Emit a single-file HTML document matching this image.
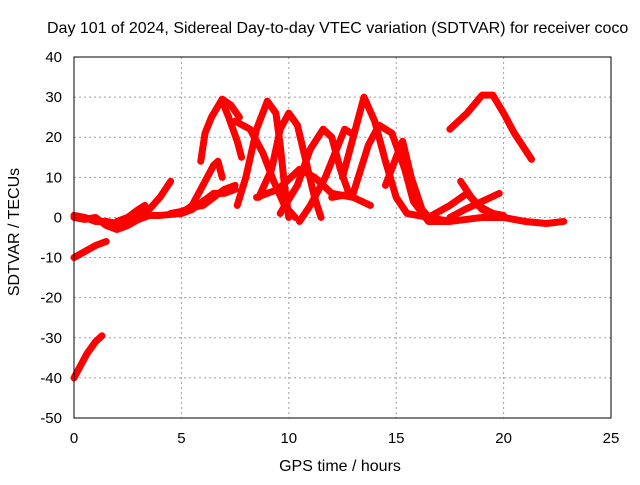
<!DOCTYPE html>
<html><head><meta charset="utf-8"><style>
body{margin:0;background:#fff}
svg text{font-family:"Liberation Sans",sans-serif;font-size:15px;fill:#000}
svg text.ttl{font-size:16px}
</style></head><body>
<svg id="chart" width="640" height="480">
<text class="ttl" x="47" y="33">Day 101 of 2024, Sidereal Day-to-day VTEC variation (SDTVAR) for receiver coco</text>
<text class="ttl" x="340" y="471" text-anchor="middle">GPS time / hours</text>
<text class="ttl" transform="translate(19,232) rotate(-90)" text-anchor="middle">SDTVAR / TECUs</text>
<g id="grid"></g><g id="ticks"></g><g id="tracks"></g>
<rect x="74" y="57" width="537" height="361" fill="none" stroke="#000"/>
</svg>
<script>
const xTicks=[0,5,10,15,20,25];
const yTicks=[40,30,20,10,0,-10,-20,-30,-40,-50];
const trackA=[[0,0],[0.5,-0.5],[1,0],[1.5,-2],[2,-3],[2.5,-2],[3,-0.5],[3.5,0.5],[4,0.5],[5,1],[5.5,2],[6,4],[6.5,6],[7,6],[7.5,7]];
const trackA2=[[0,0.5],[0.5,0],[1,-1],[1.5,-1],[2,-1.5],[2.5,-1],[3,0]];
const trackB=[[0,-10],[0.5,-8.5],[1,-7],[1.5,-6]];
const trackC=[[0,-40],[0.3,-37],[0.6,-34],[1,-31],[1.3,-29.5]];
const trackD=[[2,-1],[2.5,0],[3,2],[3.3,3]];
const trackE=[[3,0],[3.5,2],[4,5],[4.5,9]];
const trackE2=[[4.5,1],[5,1.5],[5.5,2.5],[6,3],[6.5,5],[7,7],[7.5,8]];
const trackF=[[5.9,14],[6.1,21],[6.4,25],[6.9,29.5],[7.3,28],[7.7,25]];
const trackF2=[[6.9,29],[7.2,25],[7.6,19],[7.8,15]];
const trackG=[[5,1],[5.5,3],[6,8],[6.5,13],[6.7,14],[6.9,10]];
const trackH=[[7.6,3],[8,10],[8.5,22],[9,29],[9.4,26],[9.6,18],[9.8,8],[10,0]];
const trackH2=[[7.5,24],[8.2,22],[8.8,16],[9.3,9],[9.8,3],[10.3,0]];
const trackI=[[8.6,5],[9.2,12],[9.6,22],[10,26],[10.4,23],[10.8,14],[11.2,5],[11.5,0]];
const trackJ=[[9.6,1],[10.4,8],[11,17],[11.6,22],[12,20],[12.4,12],[12.8,6]];
const trackK=[[10.5,-1],[11,3],[11.7,10],[12.3,18],[12.6,22],[12.9,21]];
const trackK2=[[8.5,5],[9.5,7],[10.5,12],[11.2,10],[12,6],[13,5],[13.8,3]];
const trackL=[[12.5,10],[13,20],[13.5,30],[14,24],[14.5,14],[15,5],[15.5,1],[16.5,0],[17.5,-1],[19,0],[20,0],[21,-1],[22,-1.5],[22.8,-1]];
const trackM=[[12,5],[13,6],[13.7,18],[14.2,23],[14.8,21],[15.4,12],[15.8,4],[16.5,-1],[17.5,-1]];
const trackN=[[14.5,8],[15,15],[15.3,19],[15.7,10],[16.2,2],[16.7,-1]];
const trackO=[[17.5,22],[18.3,26],[19,30.5],[19.5,30.5],[20,26],[20.5,21],[21.3,14.5]];
const trackP=[[16.5,0],[17.5,3],[18.3,6],[18.8,3],[19.5,1],[20,0.5]];
const trackQ=[[17.5,0],[18.2,2],[19,4],[19.8,6]];
const trackQ2=[[18,9],[18.5,5],[19,2],[19.5,1]];
const tracks=[trackA,trackA2,trackB,trackC,trackD,trackE,trackE2,trackF,trackF2,trackG,trackH,trackH2,trackI,trackJ,trackK,trackK2,trackL,trackM,trackN,trackO,trackP,trackQ,trackQ2];
const X=t=>74+t*(537/25);
const Y=v=>57+(40-v)*(361/90);
const NS="http://www.w3.org/2000/svg";
const grid=document.getElementById('grid'),tk=document.getElementById('ticks'),tr=document.getElementById('tracks');
function mk(tag,attrs,parent){const e=document.createElementNS(NS,tag);for(const k in attrs)e.setAttribute(k,attrs[k]);parent.appendChild(e);return e;}
xTicks.forEach(t=>{
  if(t>0&&t<25){const g=mk('line',{x1:X(t),x2:X(t),y1:57,y2:418,stroke:'#a0a0a0','stroke-dasharray':'2,3'},grid);
  
  }
  const l=mk('text',{x:X(t),y:443,'text-anchor':'middle'},tk);l.textContent=t;
  
  
});
yTicks.forEach(v=>{
  if(v<40&&v>-50){const g=mk('line',{x1:74,x2:611,y1:Y(v),y2:Y(v),stroke:'#a0a0a0','stroke-dasharray':'2,3'},grid);
  
  }
  const l=mk('text',{x:62,y:Y(v)+5,'text-anchor':'end'},tk);l.textContent=v;
  
  
});
tracks.forEach(tr_=>{
  const p=mk('polyline',{points:tr_.map(d=>X(d[0])+','+Y(d[1])).join(' '),fill:'none',stroke:'#f00','stroke-width':7,'stroke-linejoin':'round','stroke-linecap':'round'},tr);
  
  
});
</script>
</body></html>
